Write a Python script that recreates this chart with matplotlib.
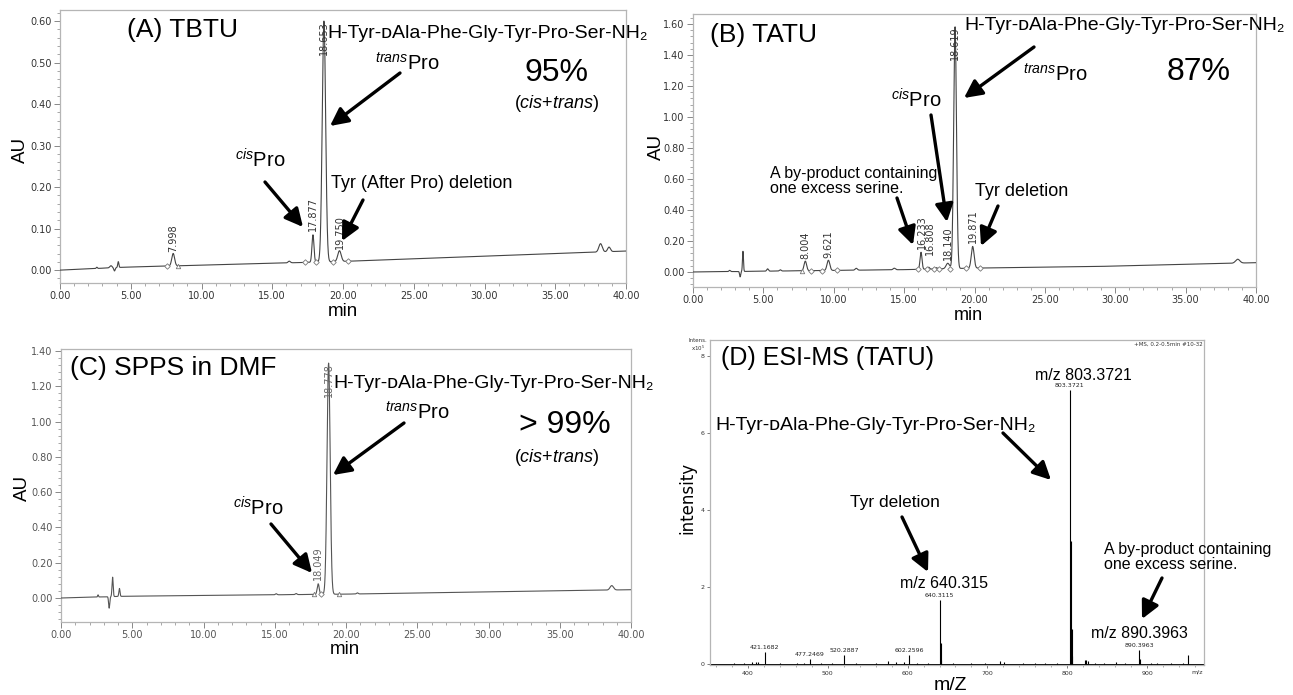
import numpy as np
import matplotlib
matplotlib.use('Agg')
import matplotlib.pyplot as plt
from matplotlib.ticker import MultipleLocator, FormatStrFormatter, FixedLocator
from matplotlib.patches import FancyArrowPatch

W, H = 1293, 695
plt.rcParams['font.family'] = ['Liberation Sans', 'DejaVu Sans']
plt.rcParams['mathtext.fontset'] = 'custom'
plt.rcParams['mathtext.rm'] = 'Liberation Sans'
plt.rcParams['mathtext.it'] = 'Liberation Sans:italic'
plt.rcParams['mathtext.bf'] = 'Liberation Sans:bold'

# ---------------- data ----------------
# Panel A (TBTU) chromatogram: baseline knots and peaks (rt, height above baseline, width)
a_base_t = [0.0, 4.5, 20.0, 28.8, 40.0]
a_base_y = [0.0, 0.007, 0.021, 0.032, 0.046]
a_peak_rt = [2.6, 3.6, 3.85, 4.12, 7.998, 16.2, 17.877, 18.653, 19.750, 38.2, 38.8]
a_peak_h = [0.003, 0.005, -0.008, 0.014, 0.030, 0.004, 0.066, 0.580, 0.026, 0.020, 0.011]
a_peak_w = [0.04, 0.08, 0.05, 0.04, 0.10, 0.08, 0.07, 0.12, 0.12, 0.12, 0.10]
a_labels = [7.998, 17.877, 19.750]
a_label_y = [0.044, 0.094, 0.052]
a_main = 18.653
a_diamonds = [7.54, 17.34, 18.06, 19.30, 20.38]
a_triangles = [8.32]

# Panel B (TATU)
b_base_t = [0.0, 5.0, 15.0, 20.0, 28.5, 40.0]
b_base_y = [0.0, 0.005, 0.015, 0.025, 0.035, 0.060]
b_peak_rt = [2.6, 3.35, 3.55, 5.3, 6.2, 7.98, 9.62, 11.6, 14.3, 16.2, 16.75, 17.3, 18.1, 18.619, 19.871, 38.7]
b_peak_h = [0.008, -0.035, 0.13, 0.015, 0.008, 0.062, 0.066, 0.012, 0.010, 0.110, 0.012, 0.008, 0.035, 1.560, 0.140, 0.025]
b_peak_w = [0.05, 0.04, 0.035, 0.06, 0.06, 0.09, 0.10, 0.08, 0.08, 0.07, 0.06, 0.06, 0.12, 0.10, 0.10, 0.15]
b_labels = [8.004, 9.621, 16.233, 16.808, 18.140, 19.871]
b_label_y = [0.086, 0.093, 0.151, 0.108, 0.080, 0.184]
b_main = 18.619
b_diamonds = [8.40, 9.13, 10.20, 16.00, 16.60, 17.10, 17.50, 18.26, 19.42, 20.38]
b_triangles = [7.74]

# Panel C (SPPS in DMF)
c_base_t = [0.0, 4.5, 20.0, 40.0]
c_base_y = [0.0, 0.010, 0.022, 0.047]
c_peak_rt = [2.6, 3.38, 3.62, 4.1, 15.1, 16.5, 18.049, 18.778, 20.8, 38.65]
c_peak_h = [0.012, -0.065, 0.110, 0.045, 0.006, 0.006, 0.060, 1.310, 0.006, 0.025]
c_peak_w = [0.03, 0.04, 0.04, 0.04, 0.06, 0.06, 0.07, 0.11, 0.06, 0.12]
c_labels = [18.049]
c_label_y = [0.104]
c_main = 18.778
c_diamonds = [18.28]
c_triangles = [17.77, 19.48]

# Panel D (ESI-MS) stick spectrum, intensity in 1e5
d_mz = [383, 395, 405, 410, 413, 421.1682, 440, 462, 470, 477.2469, 492, 505, 520.2887, 535, 560,
        575, 586, 596, 602.2596, 612, 625, 640.3115, 641.32, 642.3, 657, 680, 697, 716, 721, 745,
        760, 772, 787, 803.3721, 804.37, 805.38, 806.4, 822, 824, 826, 835, 846, 861, 872,
        890.3963, 891.4, 905, 912, 930, 945, 951]
d_int = [0.02, 0.03, 0.05, 0.04, 0.05, 0.30, 0.03, 0.03, 0.02, 0.13, 0.03, 0.02, 0.24, 0.02, 0.03,
         0.08, 0.05, 0.06, 0.22, 0.03, 0.02, 1.66, 0.55, 0.10, 0.02, 0.02, 0.02, 0.08, 0.05, 0.03,
         0.02, 0.03, 0.03, 7.11, 3.20, 0.91, 0.20, 0.10, 0.09, 0.08, 0.03, 0.03, 0.06, 0.03,
         0.36, 0.12, 0.03, 0.02, 0.03, 0.02, 0.22]
d_lab_mz = [421.1682, 477.2469, 520.2887, 602.2596, 640.3115, 803.3721, 890.3963]
d_lab_txt = ['421.1682', '477.2469', '520.2887', '602.2596', '640.3115', '803.3721', '890.3963']

peptide = 'H-Tyr-\u1d05Ala-Phe-Gly-Tyr-Pro-Ser-NH\u2082'

# ---------------- figure ----------------
fig = plt.figure(figsize=(W / 100, H / 100), dpi=100)


def add_ax(l, t, r, b):
    return fig.add_axes([l / W, 1 - b / H, (r - l) / W, (b - t) / H])


def ft(x, y, s, **kw):
    kw.setdefault('ha', 'center')
    kw.setdefault('va', 'center')
    return fig.text(x / W, 1 - y / H, s, **kw)


def farrow(x0, y0, x1, y1):
    p = FancyArrowPatch((x0 / W, 1 - y0 / H), (x1 / W, 1 - y1 / H), transform=fig.transFigure,
                        arrowstyle='-|>,head_length=0.9,head_width=0.45', mutation_scale=12,
                        lw=2.4, color='black', shrinkA=0, shrinkB=0, zorder=5)
    fig.add_artist(p)


t = np.linspace(0, 40, 16001)


def chrom(bt, by, rt, h, w):
    y = np.interp(t, bt, by)
    for r, hh, ww in zip(rt, h, w):
        y = y + hh * np.exp(-0.5 * ((t - r) / ww) ** 2)
    return y


spine_col = '#b5b5b5'


def style_chrom(ax, ylim, ymaj, ymin, lc):
    ax.set_xlim(0, 40)
    ax.set_ylim(*ylim)
    ax.xaxis.set_major_locator(MultipleLocator(5))
    ax.xaxis.set_minor_locator(MultipleLocator(1))
    ax.yaxis.set_major_locator(MultipleLocator(ymaj))
    ax.yaxis.set_minor_locator(MultipleLocator(ymin))
    ax.xaxis.set_major_formatter(FormatStrFormatter('%.2f'))
    ax.yaxis.set_major_formatter(FormatStrFormatter('%.2f'))
    for s in ax.spines.values():
        s.set_color(spine_col)
        s.set_linewidth(0.9)
    ax.tick_params(which='major', direction='out', length=4, width=0.7, color='#888888',
                   labelsize=7, labelcolor=lc, pad=2)
    ax.tick_params(which='minor', direction='out', length=2, width=0.6, color='#999999')
    for lab in ax.get_xticklabels() + ax.get_yticklabels():
        lab.set_family('DejaVu Sans')


def draw_chrom(ax, bt, by, rt, h, w, labels, label_y, main, dia, tri, lc, tc):
    y = chrom(bt, by, rt, h, w)
    ax.plot(t, y, color=lc, lw=0.8, zorder=3)
    for r, ly in zip(labels, label_y):
        ax.text(r, ly, f'{r:.3f}', rotation=90, ha='center', va='bottom', fontsize=7,
                family='DejaVu Sans', color=tc, zorder=4)
    top = np.interp(main, t, y)
    ax.text(main, top, f'{main:.3f}', rotation=90, ha='center', va='top', fontsize=7,
            family='DejaVu Sans', color=tc, zorder=4)
    ax.plot(dia, np.interp(dia, bt, by), 'D', ms=2.8, mfc='white', mec='#777777', mew=0.6, zorder=4)
    ax.plot(tri, np.interp(tri, bt, by), '^', ms=3.2, mfc='white', mec='#777777', mew=0.6, zorder=4)


# Panel A
axA = add_ax(60, 10, 626, 283)
style_chrom(axA, (-0.031, 0.6265), 0.1, 0.02, '#333333')
draw_chrom(axA, a_base_t, a_base_y, a_peak_rt, a_peak_h, a_peak_w, a_labels, a_label_y,
           a_main, a_diamonds, a_triangles, '#444444', '#333333')

# Panel B
axB = add_ax(693, 14, 1256, 287)
style_chrom(axB, (-0.097, 1.665), 0.2, 0.04, '#333333')
draw_chrom(axB, b_base_t, b_base_y, b_peak_rt, b_peak_h, b_peak_w, b_labels, b_label_y,
           b_main, b_diamonds, b_triangles, '#444444', '#333333')

# Panel C
axC = add_ax(61, 349, 631, 622)
style_chrom(axC, (-0.136, 1.411), 0.2, 0.04, '#555555')
draw_chrom(axC, c_base_t, c_base_y, c_peak_rt, c_peak_h, c_peak_w, c_labels, c_label_y,
           c_main, c_diamonds, c_triangles, '#555555', '#666666')

# Panel D
axD = add_ax(710, 340, 1204, 665)
axD.set_xlim(352.4, 971.4)
axD.set_ylim(-0.03, 8.42)
axD.vlines(d_mz, 0, d_int, color='black', lw=0.8, zorder=3)
axD.axhline(0, color='black', lw=0.7, zorder=2)
for mz, txt in zip(d_lab_mz, d_lab_txt):
    hh = d_int[d_mz.index(mz)]
    axD.annotate(txt, (mz, hh), xytext=(0, 1.5), textcoords='offset points', ha='center',
                 va='bottom', fontsize=4.5, family='DejaVu Sans', color='#222222')
axD.xaxis.set_major_locator(FixedLocator([400, 500, 600, 700, 800, 900]))
axD.xaxis.set_minor_locator(MultipleLocator(20))
axD.yaxis.set_major_locator(FixedLocator([0, 2, 4, 6, 8]))
for s in axD.spines.values():
    s.set_color(spine_col)
    s.set_linewidth(0.9)
axD.tick_params(which='major', direction='out', length=2.5, width=0.6, color='#666666',
                labelsize=4.5, labelcolor='#333333', pad=1.5)
axD.tick_params(which='minor', direction='out', length=1.2, width=0.5, color='#888888')
for lab in axD.get_xticklabels() + axD.get_yticklabels():
    lab.set_family('DejaVu Sans')
ft(1197, 672, 'm/z', fontsize=4.5, family='DejaVu Sans', color='#333333')
ft(698, 340, 'Intens.', fontsize=4, family='DejaVu Sans', color='#333333')
ft(698, 348, 'x10$^5$', fontsize=4, family='DejaVu Sans', color='#333333')
ft(1203, 344, '+MS, 0.2-0.5min #10-32', fontsize=4, family='DejaVu Sans', color='#333333', ha='right')

# ---------------- axis labels ----------------
ft(20, 150, 'AU', rotation=90, fontsize=13.5)
ft(343, 311, 'min', fontsize=13.5)
ft(656, 147, 'AU', rotation=90, fontsize=13.5)
ft(968, 315, 'min', fontsize=13)
ft(22, 488, 'AU', rotation=90, fontsize=13.5)
ft(345, 650, 'min', fontsize=13.5)
ft(687, 498, 'intensity', rotation=90, fontsize=12, family='DejaVu Sans')
ft(950, 686, 'm/Z', fontsize=14)

trans = r'$^{\mathit{trans}}$Pro'
cis = r'$^{\mathit{cis}}$Pro'
cistrans = r'($\mathit{cis}$+$\mathit{trans}$)'

# ---------------- annotations: A ----------------
ft(127, 30, '(A) TBTU', fontsize=19, ha='left')
ft(327, 33, peptide, fontsize=14, ha='left')
ft(407, 63, trans, fontsize=14.5)
farrow(400, 73, 330, 126)
ft(557, 73, '95%', fontsize=23)
ft(557, 104, cistrans, fontsize=13)
ft(260, 160, cis, fontsize=14.5)
farrow(265, 182, 303, 227)
ft(331, 183, 'Tyr (After Pro) deletion', fontsize=13, ha='left')
farrow(363, 200, 342, 241)

# ---------------- annotations: B ----------------
ft(710, 35, '(B) TATU', fontsize=19, ha='left')
ft(964, 26, peptide, fontsize=14, ha='left')
farrow(1034, 47, 964, 98)
ft(1055, 74, trans, fontsize=14.5)
ft(1199, 72, '87%', fontsize=23)
ft(916, 100, cis, fontsize=14.5)
farrow(931, 115, 947, 222)
ft(770, 181, 'A by-product containing\none excess serine.', fontsize=11.5, ha='left', linespacing=1.05)
farrow(897, 198, 913, 245)
ft(975, 191, 'Tyr deletion', fontsize=13, ha='left')
farrow(998, 206, 981, 246)

# ---------------- annotations: C ----------------
ft(70, 368, '(C) SPPS in DMF', fontsize=19, ha='left')
ft(333, 383, peptide, fontsize=14, ha='left')
ft(417, 412, trans, fontsize=14.5)
farrow(404, 423, 333, 475)
ft(565, 425, '> 99%', fontsize=23)
ft(557, 458, cistrans, fontsize=13)
ft(258, 508, cis, fontsize=14.5)
farrow(271, 524, 312, 573)

# ---------------- annotations: D ----------------
ft(721, 358, '(D) ESI-MS (TATU)', fontsize=18, ha='left')
ft(1083, 376, 'm/z 803.3721', fontsize=11.5)
ft(715, 425, peptide, fontsize=14, ha='left')
farrow(1003, 433, 1051, 480)
ft(895, 503, 'Tyr deletion', fontsize=12.5)
farrow(902, 517, 928, 572)
ft(944, 583, 'm/z 640.315', fontsize=11.5)
ft(1104, 557, 'A by-product containing\none excess serine.', fontsize=11.5, ha='left', linespacing=1.05)
farrow(1162, 578, 1142, 619)
ft(1139, 634, 'm/z 890.3963', fontsize=11.5)

fig.savefig('out.png', dpi=100)
